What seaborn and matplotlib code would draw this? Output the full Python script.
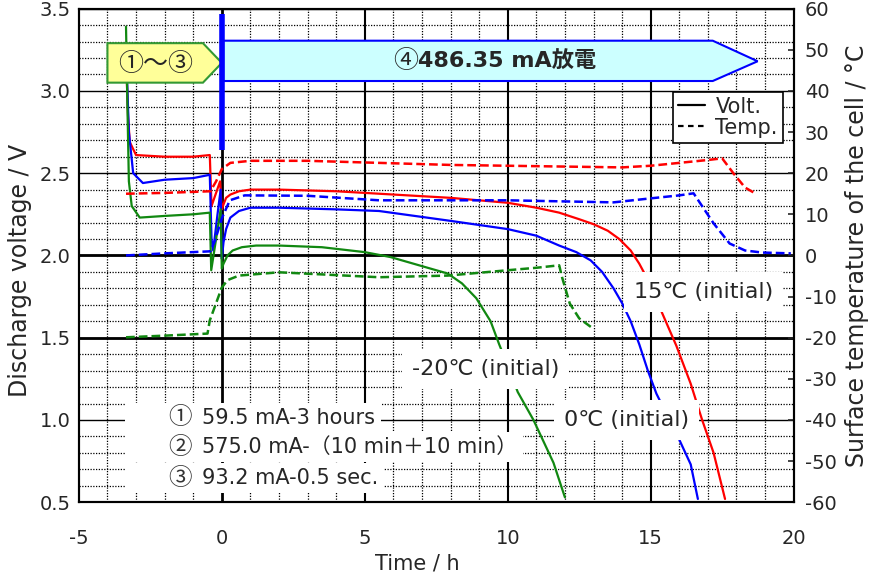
import matplotlib
matplotlib.use("Agg")
import matplotlib.pyplot as plt
from matplotlib.patches import Polygon, Rectangle
from matplotlib.lines import Line2D
from matplotlib.ticker import MultipleLocator
import seaborn as sns

# discharge voltage (V) vs time (h)
t_v15 = [-3.35, -3.28, -3.22, -3.0, -2.0, -1.0, -0.42, -0.36, -0.2, -0.06, 0.0, 0.06, 0.15, 0.3, 0.6, 1.0, 2, 4,
         6, 8, 10, 11, 11.8, 12.5, 13.0, 13.5, 13.9, 14.3, 14.6, 15.0, 15.4, 15.9, 16.4, 16.8, 17.2, 17.6]
v15 = [3.20, 2.85, 2.69, 2.61, 2.60, 2.60, 2.61, 2.30, 2.38, 2.45, 2.28, 2.31, 2.35, 2.37, 2.39, 2.40, 2.40,
       2.39, 2.37, 2.35, 2.32, 2.29, 2.26, 2.22, 2.19, 2.15, 2.10, 2.03, 1.95, 1.82, 1.65, 1.45, 1.22, 1.00,
       0.80, 0.52]

t_v0 = [-3.35, -3.25, -3.1, -2.76, -2.0, -1.0, -0.42, -0.36, -0.3, -0.15, -0.04, 0.0, 0.06, 0.15, 0.3, 0.6, 1.0,
        2, 4, 5.5, 8, 10, 11, 11.8, 12.4, 12.9, 13.3, 13.7, 14.0, 14.3, 14.6, 14.9, 15.2, 15.6, 16.0, 16.4, 16.65]
v0 = [3.25, 2.75, 2.50, 2.44, 2.46, 2.47, 2.49, 2.10, 2.03, 2.25, 2.40, 1.98, 2.08, 2.16, 2.23, 2.27, 2.29,
      2.29, 2.28, 2.27, 2.21, 2.16, 2.12, 2.06, 2.02, 1.97, 1.90, 1.80, 1.71, 1.60, 1.46, 1.30, 1.16, 1.02,
      0.88, 0.73, 0.52]

t_vm20 = [-3.35, -3.3, -3.25, -3.15, -2.87, -2.0, -1.0, -0.42, -0.37, -0.2, -0.04, 0.0, 0.06, 0.2, 0.38, 0.7,
          1.2, 2.0, 3.5, 5.0, 5.9, 6.9, 7.9, 8.4, 8.9, 9.4, 9.7, 10.0, 10.35, 10.9, 11.6, 12.0]
vm20 = [3.39, 2.90, 2.45, 2.30, 2.23, 2.24, 2.25, 2.26, 1.91, 2.10, 2.28, 1.92, 1.95, 2.00, 2.03, 2.05, 2.06,
        2.06, 2.05, 2.02, 1.99, 1.94, 1.89, 1.83, 1.74, 1.60, 1.46, 1.33, 1.17, 1.00, 0.74, 0.53]

# surface temperature (degC) vs time (h)
t_T15 = [-3.35, -2.0, -0.4, -0.2, 0.0, 0.3, 1.0, 3, 5, 8, 10, 12, 14, 15, 16, 17.0, 17.5, 17.9, 18.3, 18.6]
T15 = [15.0, 15.2, 15.6, 18.0, 21.0, 22.5, 23.0, 23.0, 22.6, 22.0, 21.8, 21.6, 21.4, 21.8, 22.5, 23.2, 23.6,
       19.9, 16.5, 15.3]

t_T0 = [-3.35, -2.0, -0.4, -0.24, 0.0, 0.28, 0.8, 3, 5.5, 10, 13.7, 14.9, 16.0, 16.5, 17.2, 17.76, 18.3, 18.9,
        19.9]
T0 = [0.0, 0.5, 1.0, 3.6, 9.0, 13.4, 14.6, 14.5, 13.4, 13.4, 12.9, 13.8, 14.6, 15.1, 7.8, 2.9, 1.2, 0.7, 0.5]

t_Tm20 = [-3.35, -2.0, -0.5, -0.42, 0.0, 0.2, 0.6, 2.0, 5.5, 7.9, 10, 11.0, 11.8, 11.9, 12.17, 12.5, 12.97]
Tm20 = [-19.9, -19.5, -19.0, -15.8, -7.8, -6.0, -4.9, -4.1, -5.3, -4.9, -3.6, -3.0, -2.4, -5.3, -11.7, -15.3,
        -17.7]

# condition labels
steps = ["59.5 mA-3 hours", "575.0 mA-（10 min＋10 min）", "93.2 mA-0.5 sec."]
marks = ["①", "②", "③"]

red, blue, green = "#ff0000", "#0000ff", "#118811"

sns.set_style("white")
plt.rcParams['font.family'] = ['DejaVu Sans', 'Noto Sans CJK JP']
cjk = ['Noto Sans CJK JP', 'DejaVu Sans']

fig, ax = plt.subplots(figsize=(8.76, 5.74), dpi=100)
fig.subplots_adjust(left=0.090, right=0.906, bottom=0.125, top=0.985)
ax2 = ax.twinx()

# grid
ax.set_xlim(-5, 20)
ax.set_ylim(0.5, 3.5)
ax.xaxis.set_major_locator(MultipleLocator(5))
ax.xaxis.set_minor_locator(MultipleLocator(1))
ax.yaxis.set_major_locator(MultipleLocator(0.5))
ax.yaxis.set_minor_locator(MultipleLocator(0.1))
ax.grid(which='minor', color='black', ls=(0, (1, 1.2)), lw=0.9)
ax.grid(which='major', axis='y', color='black', lw=1.0)
for xv in [0, 5, 10, 15]:
    ax.axvline(xv, color='black', lw=2.0 if xv == 0 else 1.5, zorder=1)
for yv in [2.0, 1.5]:
    ax.axhline(yv, color='black', lw=2.0, zorder=1)

# voltage (solid) on left axis
for tt, vv, c in [(t_v15, v15, red), (t_v0, v0, blue), (t_vm20, vm20, green)]:
    sns.lineplot(x=tt, y=vv, ax=ax, color=c, lw=1.6, sort=False, estimator=None, zorder=3)

# temperature (dashed) on right axis
for tt, vv, c in [(t_T15, T15, red), (t_T0, T0, blue), (t_Tm20, Tm20, green)]:
    sns.lineplot(x=tt, y=vv, ax=ax2, color=c, lw=1.8, sort=False, estimator=None,
                 linestyle=(0, (3.5, 1.6)), zorder=3)
ax2.set_ylim(-60, 60)
ax2.yaxis.set_major_locator(MultipleLocator(10))

# axes styling
for a in (ax, ax2):
    for s in a.spines.values():
        s.set_color('black')
        s.set_linewidth(1.5)
ax.tick_params(axis='x', direction='in', length=5, width=1.5, labelsize=14, pad=19)
ax.tick_params(axis='y', direction='in', length=0, labelsize=14, pad=6)
ax.tick_params(which='minor', length=0)
ax2.tick_params(axis='y', direction='in', length=4, width=1.2, labelsize=14, pad=8)
ax.set_xticks([-5, 0, 5, 10, 15, 20])
ax.set_xticklabels(['-5', '0', '5', '10', '15', '20'])
ax.set_yticklabels([f"{v:.1f}" for v in ax.get_yticks()])
ax2.set_yticklabels([f"{int(v)}" for v in ax2.get_yticks()])

ax.set_xlabel("Time / h", fontsize=15)
ax.xaxis.set_label_coords(0.474, -0.103)
ax.set_ylabel("Discharge voltage / V", fontsize=17)
ax.yaxis.set_label_coords(-0.066, 0.47)
ax2.set_ylabel("Surface temperature of the cell / °C", fontsize=17, labelpad=6)

# process arrows (in left-axis data coords, drawn on top axis)
ytr = ax.transData
yellow = Polygon([(-4.0, 3.05), (-4.0, 3.29), (-0.66, 3.29), (0.0, 3.17), (-0.66, 3.05)],
                 closed=True, fc='#ffff99', ec='#339933', lw=1.5, transform=ytr, zorder=5)
cyan = Polygon([(0.05, 3.06), (0.05, 3.305), (17.17, 3.305), (18.74, 3.18), (17.17, 3.06)],
               closed=True, fc='#ccffff', ec='#0000ff', lw=1.5, transform=ytr, zorder=5)
ax2.add_patch(yellow)
ax2.add_patch(cyan)
ax2.plot([0, 0], [2.64, 3.47], color='#0000ff', lw=4, transform=ytr, zorder=6, solid_capstyle='butt')
ax2.text(-2.3, 3.165, "①～③", transform=ytr, fontsize=18, family=cjk, ha='center', va='center', zorder=7)
ax2.text(6.85, 3.18, "④", transform=ytr, fontsize=18, family=cjk, ha='right', va='center', zorder=7)
ax2.text(6.85, 3.18, "486.35 mA放電", transform=ytr, fontsize=16, fontweight='bold',
         ha='left', va='center', zorder=7)

# temperature labels with white boxes
box = dict(boxstyle='square,pad=0.45', fc='white', ec='none')
ax2.text(16.85, 1.775, "15℃ (initial)", transform=ytr, fontsize=16, ha='center', va='center',
         bbox=box, zorder=8)
ax2.text(9.23, 1.31, "-20℃ (initial)", transform=ytr, fontsize=16, ha='center', va='center',
         bbox=box, zorder=8)
ax2.text(14.16, 0.997, "0℃ (initial)", transform=ytr, fontsize=16, ha='center', va='center',
         bbox=box, zorder=8)

# condition list, each row on a white strip that starts left of the circled number
step_y = [1.015, 0.833, 0.645]
texts = []
for m, s, yv in zip(marks, steps, step_y):
    texts.append(ax2.text(-0.70, yv, s, transform=ytr, fontsize=15, ha='left', va='center', zorder=8))
    ax2.text(-1.47, yv, m, transform=ytr, fontsize=17, family=cjk, ha='center', va='center',
             color='#333333', zorder=8)

fig.canvas.draw()
inv = ax.transData.inverted()
row_h = (step_y[0] - step_y[1])
for t, yv in zip(texts, step_y):
    bb = t.get_window_extent()
    x_right = inv.transform((bb.x1 + 6, bb.y0))[0]
    ax2.add_patch(Rectangle((-3.4, yv - row_h / 2), x_right + 3.4, row_h, transform=ytr,
                            fc='white', ec='none', zorder=7.5))

# legend
handles = [Line2D([], [], color='black', lw=1.6),
           Line2D([], [], color='black', lw=1.6, ls=(0, (2.5, 2)))]
leg = ax2.legend(handles, ["Volt.", "Temp."], loc='upper right', bbox_to_anchor=(0.985, 0.832),
                 fontsize=15, frameon=True, fancybox=False, edgecolor='black', framealpha=1,
                 handlelength=1.3, handletextpad=0.5, labelspacing=0.05, borderpad=0.25,
                 borderaxespad=0)
leg.get_frame().set_linewidth(1.2)
leg.set_zorder(9)

fig.savefig("out.png", dpi=100)
